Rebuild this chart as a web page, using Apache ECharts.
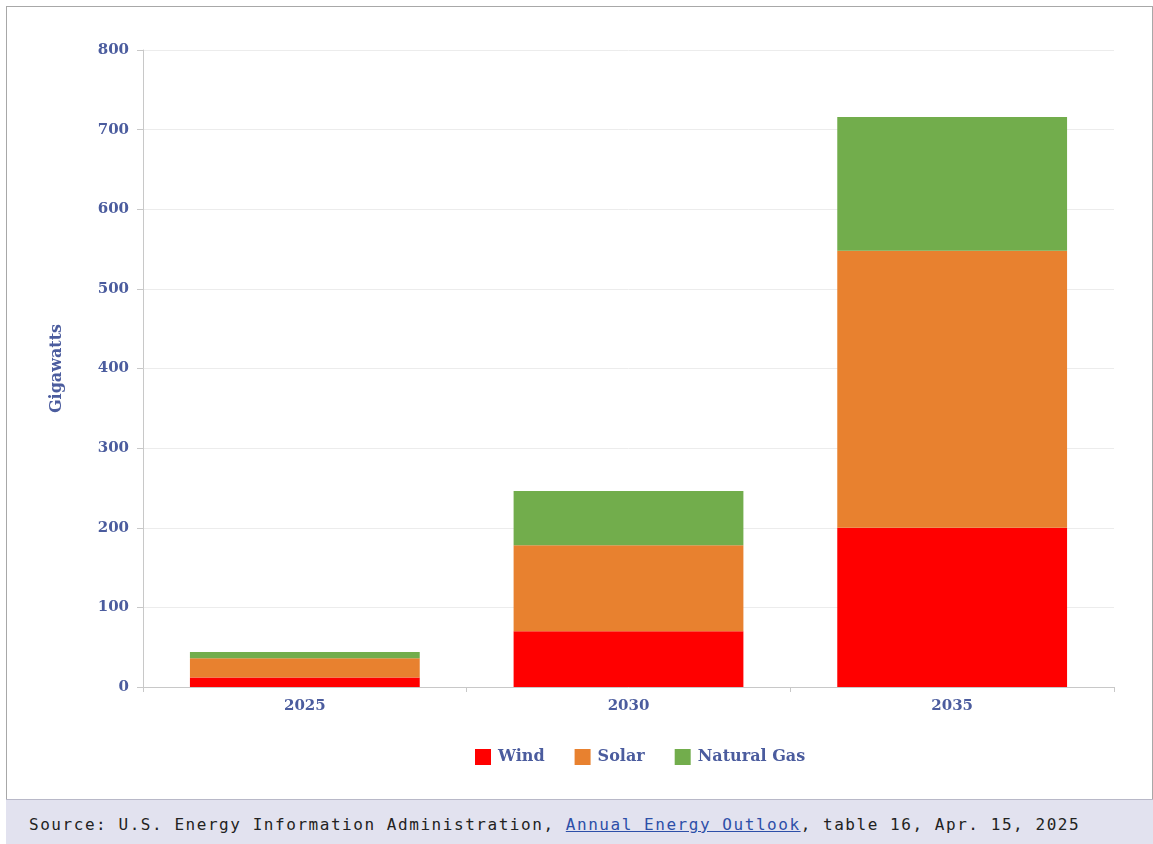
<!DOCTYPE html>
<html>
<head>
<meta charset="utf-8">
<script src="https://cdn.jsdelivr.net/npm/echarts@6/dist/echarts.min.js"></script>
<style>
html,body{margin:0;padding:0;background:#fff;width:1153px;height:844px;overflow:hidden;}
#frame{position:absolute;left:6px;top:6px;width:1145px;height:792px;border:1px solid #a8a8a8;border-bottom:none;}
#chart{position:absolute;left:0;top:0;width:1145px;height:792px;}
#source{position:absolute;left:6px;top:799px;width:1147px;height:45px;background:#e2e2ef;border-top:1px solid #b8b8c8;font-family:"DejaVu Sans Mono",monospace;font-size:16px;letter-spacing:1.55px;color:#222;box-sizing:border-box;padding-left:23px;line-height:50px;white-space:nowrap;}
#source a{color:#2d4fa8;text-decoration:underline;}
</style>
</head>
<body>
<div id="frame"><div id="chart"></div></div>
<div id="source">Source: U.S. Energy Information Administration, <a href="#">Annual Energy Outlook</a>, table 16, Apr. 15, 2025</div>
<script>
var categories = ['2025', '2030', '2035'];
var wind = [12, 70, 200];
var solar = [24, 108, 348];
var naturalGas = [8, 68, 168];
var seriesNames = ['Wind', 'Solar', 'Natural Gas'];
var yTicks = [0, 100, 200, 300, 400, 500, 600, 700, 800];

var labelColor = '#4b5c9e';
var serif = '"DejaVu Serif", "Liberation Serif", serif';
var chart = echarts.init(document.getElementById('chart'));
function bar(name, data, color) {
  return {
    name: name, type: 'bar', stack: 'total', data: data, barWidth: '71%',
    itemStyle: {color: color, borderWidth: 0},
    emphasis: {disabled: true}
  };
}
chart.setOption({
  animation: false,
  textStyle: {fontFamily: serif},
  grid: {left: 136, top: 43, width: 971, height: 637, containLabel: false},
  legend: {
    bottom: 29, left: 463, itemWidth: 16, itemHeight: 16, itemGap: 30,
    icon: 'rect',
    textStyle: {color: labelColor, fontFamily: serif, fontSize: 16, fontWeight: 'bold', padding: [0, 0, 0, 2]},
    data: seriesNames
  },
  xAxis: {
    type: 'category', data: categories,
    axisLine: {lineStyle: {color: '#c8c8c8', width: 1}},
    axisTick: {show: true, length: 5, lineStyle: {color: '#c8c8c8'}},
    axisLabel: {color: labelColor, fontFamily: serif, fontSize: 15, fontWeight: 'bold', margin: 12}
  },
  yAxis: {
    type: 'value', min: yTicks[0], max: yTicks[yTicks.length - 1], interval: 100,
    name: 'Gigawatts', nameLocation: 'middle', nameGap: 78, nameRotate: 90,
    nameTextStyle: {color: labelColor, fontFamily: serif, fontSize: 16, fontWeight: 'bold'},
    axisLine: {show: true, lineStyle: {color: '#c8c8c8'}},
    axisTick: {show: true, length: 6, lineStyle: {color: '#c8c8c8'}},
    axisLabel: {color: labelColor, fontFamily: serif, fontSize: 15, fontWeight: 'bold', margin: 14},
    splitLine: {lineStyle: {color: '#ececec'}}
  },
  series: [
    bar(seriesNames[0], wind, '#ff0000'),
    bar(seriesNames[1], solar, '#e8812f'),
    bar(seriesNames[2], naturalGas, '#72ad4c')
  ]
});
</script>
</body>
</html>
